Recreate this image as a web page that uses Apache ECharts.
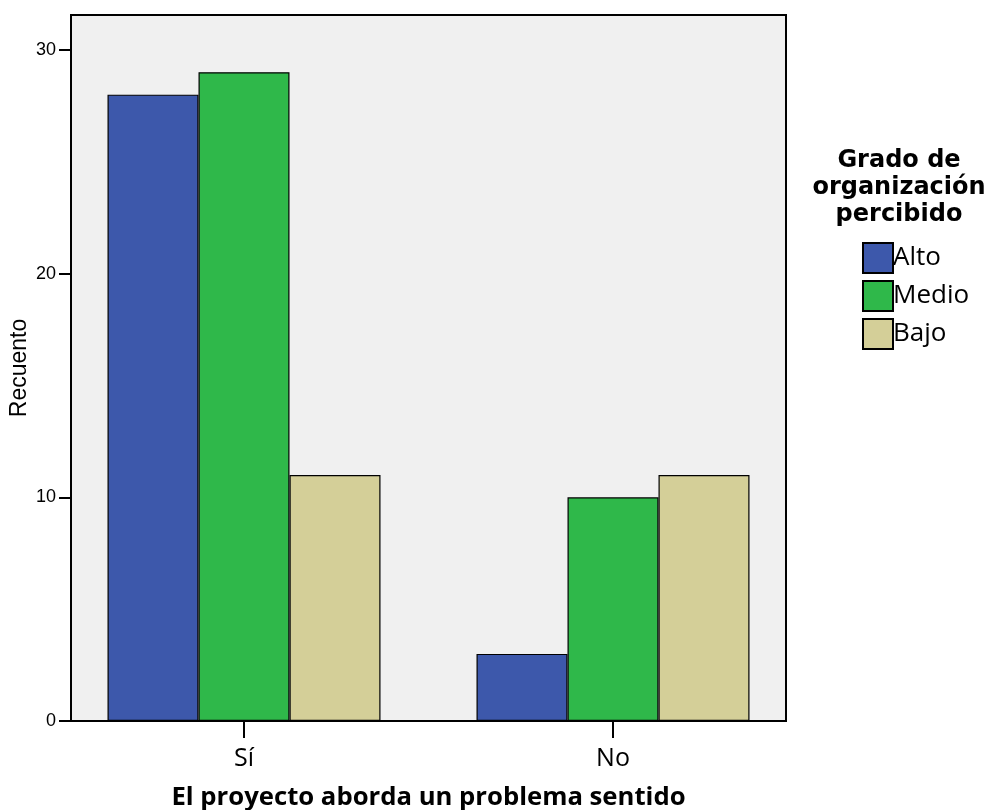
<!DOCTYPE html>
<html><head><meta charset="utf-8">
<script src="https://cdn.jsdelivr.net/npm/echarts@6/dist/echarts.min.js"></script>
<style>html,body{margin:0;padding:0;background:#fff}#c{width:991px;height:810px}</style>
</head><body><div id="c"></div>
<script>
const categories = ['Sí', 'No'];
const seriesNames = ['Alto', 'Medio', 'Bajo'];
const alto = [28, 3];
const medio = [29, 10];
const bajo = [11, 11];
const yTicks = [0, 10, 20, 30];
const colors = ['#3d58ab', '#2fb84a', '#d4cf98'];

const chart = echarts.init(document.getElementById('c'));
const yMax = 31.56;
const values = [alto, medio, bajo];
const F = 'Open Sans';
chart.setOption({
  animation: false,
  title: {
    text: 'Grado de\norganización\npercibido',
    left: 894, top: 142, textAlign: 'center',
    textStyle: { fontFamily: 'DejaVu Sans', fontWeight: 'bold', fontSize: 24, lineHeight: 27, color: '#000' }
  },
  legend: {
    orient: 'vertical', left: 857, top: 237, itemWidth: 30, itemHeight: 30, itemGap: 6,
    icon: 'rect',
    data: seriesNames,
    textStyle: { fontFamily: F, fontSize: 26, color: '#000', padding: [0,0,0,-5] }
  },
  grid: [
    { left: 71, top: 15, width: 715, height: 706, show: true, backgroundColor: '#f0f0f0', borderColor: '#000', borderWidth: 2, containLabel: false, outerBoundsMode: 'none' },
    { left: 59.5, top: 15, width: 738, height: 706, containLabel: false, outerBoundsMode: 'none' }
  ],
  xAxis: [
    { gridIndex: 0, type: 'value', min: 0, max: 1, show: false },
    { gridIndex: 1, type: 'category', data: categories,
      axisLine: { show: false },
      axisTick: { show: true, alignWithLabel: true, length: 17, lineStyle: { color: '#000', width: 2 } },
      axisLabel: { fontFamily: F, fontSize: 25, color: '#000', margin: 25 },
      name: 'El proyecto aborda un problema sentido', nameLocation: 'middle', nameGap: 64,
      nameTextStyle: { fontFamily: F, fontWeight: 'bold', fontSize: 25.7, color: '#000' }
    }
  ],
  yAxis: [
    { gridIndex: 0, type: 'value', min: 0, max: yMax, interval: 10,
      axisLine: { show: true, lineStyle: { color: '#000', width: 2 } },
      axisTick: { show: true, length: 12, customValues: yTicks, lineStyle: { color: '#000', width: 2 } },
      splitLine: { show: false },
      axisLabel: { fontFamily: 'Liberation Sans', fontSize: 18, color: '#000', margin: 15, customValues: yTicks },
      name: 'Recuento', nameLocation: 'middle', nameGap: 40, nameMoveOverlap: false,
      nameTextStyle: { fontFamily: 'Liberation Sans', fontSize: 23, color: '#000' }
    },
    { gridIndex: 1, type: 'value', min: 0, max: yMax, show: false }
  ],
  series: seriesNames.map((n, i) => ({
    name: n, type: 'bar', xAxisIndex: 1, yAxisIndex: 1,
    data: values[i], barWidth: 91, barGap: '0%',
    itemStyle: { color: colors[i], borderColor: '#000', borderWidth: 1.2 }
  }))
});
</script></body></html>
